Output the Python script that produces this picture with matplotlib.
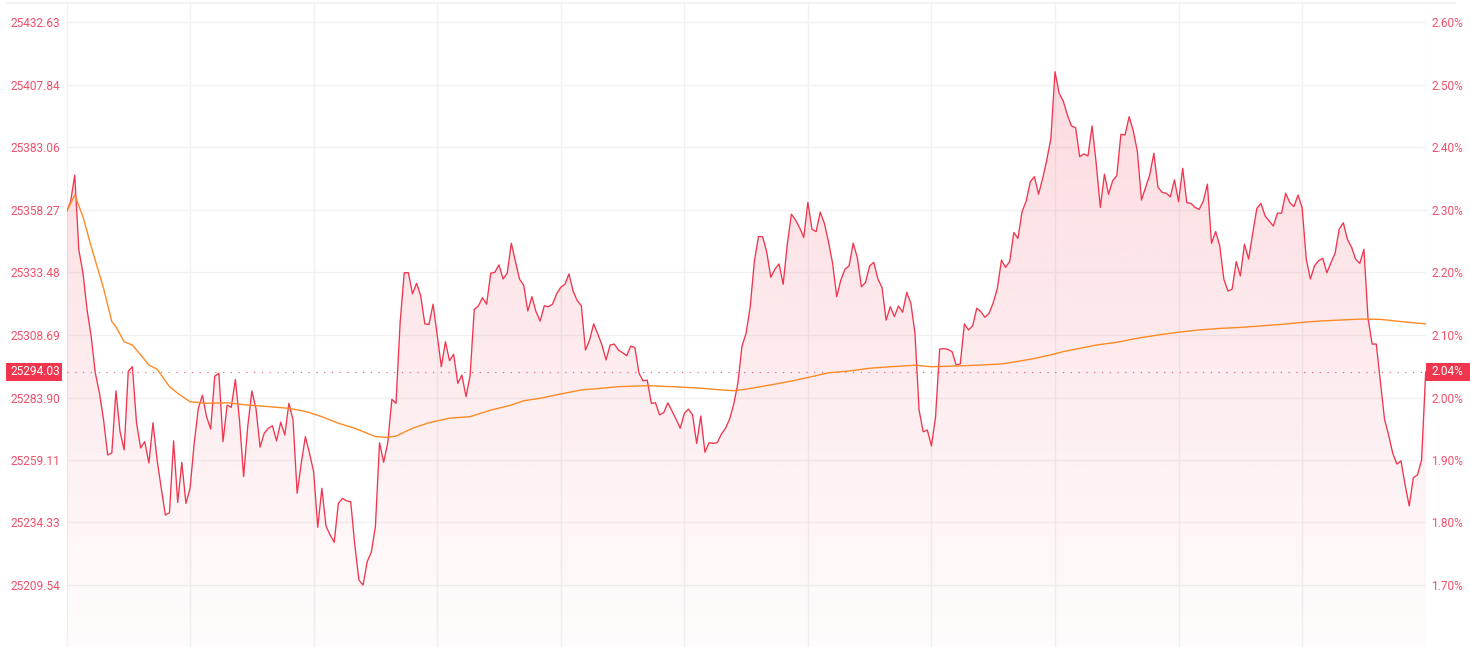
import numpy as np
import matplotlib
matplotlib.use("Agg")
import matplotlib.pyplot as plt
from matplotlib.lines import Line2D
from matplotlib.patches import Rectangle

# ---------------- data ----------------
price = [
    25357.6, 25361.6, 25372.1, 25342.4, 25333.3, 25318.6, 25308.0, 25293.6, 25285.7, 25275.0,
    25261.1, 25261.9, 25286.5, 25270.3, 25263.1, 25294.4, 25296.1, 25273.8, 25263.9, 25266.4,
    25257.9, 25273.9, 25259.1, 25248.0, 25237.3, 25238.2, 25266.7, 25242.3, 25258.2, 25241.9,
    25247.9, 25265.7, 25279.6, 25284.8, 25276.3, 25271.4, 25292.4, 25293.5, 25266.4, 25280.9,
    25280.0, 25291.1, 25275.0, 25252.5, 25272.3, 25286.5, 25279.6, 25264.2, 25269.7, 25271.7,
    25272.7, 25266.7, 25274.1, 25269.0, 25281.6, 25275.0, 25245.9, 25257.8, 25268.4, 25261.8,
    25254.5, 25232.4, 25247.9, 25232.9, 25229.4, 25226.5, 25241.9, 25243.9, 25242.9, 25242.6,
    25225.4, 25211.5, 25209.5, 25218.8, 25222.5, 25232.7, 25266.0, 25258.2, 25266.0, 25283.2,
    25281.6, 25313.6, 25333.4, 25333.4, 25325.0, 25329.2, 25324.2, 25313.1, 25312.9, 25320.9,
    25308.7, 25296.1, 25306.0, 25298.5, 25301.0, 25289.5, 25292.8, 25284.2, 25292.8, 25318.9,
    25320.2, 25323.5, 25320.9, 25333.2, 25333.6, 25336.5, 25330.9, 25333.2, 25345.1, 25337.8,
    25330.8, 25328.5, 25318.2, 25323.9, 25317.9, 25314.2, 25320.3, 25319.9, 25320.9, 25325.0,
    25327.6, 25328.8, 25332.9, 25326.1, 25322.3, 25320.3, 25302.7, 25306.7, 25313.1, 25309.1,
    25304.7, 25298.8, 25304.7, 25305.1, 25302.7, 25301.7, 25300.5, 25304.3, 25303.7, 25293.5,
    25290.5, 25290.8, 25281.6, 25281.8, 25277.0, 25277.9, 25281.8, 25278.6, 25275.3, 25271.7,
    25277.6, 25279.3, 25277.0, 25265.7, 25276.6, 25262.2, 25266.0, 25265.7, 25266.0, 25269.4,
    25271.7, 25275.3, 25281.3, 25289.5, 25304.3, 25309.4, 25319.9, 25337.8, 25347.7, 25347.7,
    25341.7, 25331.6, 25334.8, 25336.9, 25328.8, 25344.7, 25356.6, 25354.3, 25351.2, 25347.4,
    25361.3, 25350.6, 25349.7, 25357.4, 25353.0, 25345.7, 25337.1, 25323.9, 25330.5, 25334.8,
    25336.1, 25345.1, 25339.4, 25327.8, 25329.6, 25336.1, 25337.5, 25330.9, 25327.5, 25314.6,
    25319.9, 25316.0, 25320.2, 25317.7, 25325.6, 25321.3, 25309.4, 25278.9, 25270.3, 25271.0,
    25264.7, 25276.3, 25303.1, 25303.3, 25303.0, 25302.1, 25296.8, 25297.2, 25313.1, 25310.7,
    25312.3, 25319.3, 25317.9, 25315.7, 25317.3, 25321.5, 25327.2, 25338.4, 25335.5, 25337.9,
    25349.3, 25347.0, 25357.6, 25361.8, 25369.5, 25371.5, 25364.5, 25370.8, 25378.1, 25386.7,
    25413.1, 25404.6, 25401.5, 25395.9, 25391.6, 25390.9, 25379.4, 25380.5, 25379.7, 25391.6,
    25376.8, 25359.3, 25372.5, 25364.5, 25369.9, 25371.9, 25388.3, 25388.0, 25395.3, 25389.7,
    25381.4, 25362.2, 25367.3, 25372.2, 25380.8, 25367.3, 25365.3, 25364.9, 25363.5, 25370.2,
    25361.6, 25374.8, 25361.2, 25360.9, 25359.3, 25358.5, 25361.8, 25368.5, 25345.1, 25349.7,
    25344.0, 25330.8, 25326.1, 25326.9, 25337.8, 25332.1, 25344.7, 25338.8, 25349.0, 25358.9,
    25360.9, 25355.9, 25353.9, 25351.9, 25357.0, 25357.0, 25364.9, 25361.2, 25359.6, 25364.2,
    25359.2, 25338.8, 25330.9, 25336.1, 25338.2, 25339.1, 25333.4, 25337.4, 25341.1, 25350.7,
    25353.2, 25346.6, 25343.5, 25338.7, 25337.1, 25342.7, 25315.3, 25305.1, 25305.1, 25290.2,
    25275.3, 25269.0, 25261.8, 25257.5, 25258.8, 25249.2, 25240.9, 25252.1, 25253.2, 25259.1,
    25294.03,
]

avg_idx = [0, 2, 4, 6, 9, 11, 12, 14, 16, 18, 20, 22, 25, 27, 30, 34, 39, 44, 49, 54,
           57, 59, 62, 66, 70, 75, 78, 80, 84, 88, 93, 98, 103, 108, 111, 115, 120, 125,
           130, 134, 141, 147, 154, 159, 162, 165, 171, 176, 181, 185, 190, 195, 200, 206,
           210, 216, 221, 227, 232, 235, 239, 242, 246, 250, 255, 260, 265, 270, 275, 280,
           285, 290, 295, 300, 304, 309, 314, 319, 324, 330]
avg_val = [25357.6, 25364.2, 25355.6, 25343.7, 25327.2, 25314.0, 25312.0, 25306.0, 25304.7,
           25300.8, 25296.8, 25295.1, 25288.2, 25285.6, 25282.2, 25281.6, 25281.8, 25280.9,
           25280.3, 25279.6, 25278.7, 25277.9, 25276.3, 25273.7, 25271.7, 25268.4, 25268.1,
           25268.6, 25271.7, 25273.9, 25275.7, 25276.3, 25278.9, 25280.9, 25282.6, 25283.6,
           25285.3, 25286.9, 25287.6, 25288.2, 25288.6, 25288.2, 25287.6, 25286.9, 25286.6,
           25287.2, 25288.9, 25290.4, 25292.2, 25293.7, 25294.4, 25295.5, 25296.1, 25296.7,
           25296.1, 25296.4, 25296.7, 25297.2, 25298.5, 25299.4, 25300.8, 25302.1, 25303.4,
           25304.7, 25305.8, 25307.4, 25308.7, 25309.8, 25310.7, 25311.3, 25311.7, 25312.3,
           25312.9, 25313.7, 25314.2, 25314.6, 25315.0, 25314.9, 25314.0, 25313.1]

price_ticks = [25432.63, 25407.84, 25383.06, 25358.27, 25333.48, 25308.69,
               25283.90, 25259.11, 25234.33, 25209.54]
pct_labels = ["2.60%", "2.50%", "2.40%", "2.30%", "2.20%", "2.10%",
              "2.00%", "1.90%", "1.80%", "1.70%"]
last_price_label = "25294.03"
last_pct_label = "2.04%"

# ---------------- style ----------------
RED = "#f0354f"
LABEL = "#f0506a"
ORANGE = "#ff8a25"
GRID = "#f1f1f1"

W, H = 1470, 647
fig = plt.figure(figsize=(W / 100, H / 100), dpi=100)
fig.patch.set_facecolor("white")

x0, x1 = 66.5, 1425.7
ytop = 3
ax = fig.add_axes([x0 / W, 0, (x1 - x0) / W, (H - ytop) / H])
ax.set_facecolor("white")

n = len(price)
x = np.arange(n)
ymin, ymax = 25184.95, 25440.36
ax.set_xlim(0, n - 1)
ax.set_ylim(ymin, ymax)

# gradient fill under the line
poly = ax.fill_between(x, price, ymin, color="none", lw=0)
grad = np.zeros((256, 1, 4))
rgb = matplotlib.colors.to_rgb(RED)
grad[:, :, 0], grad[:, :, 1], grad[:, :, 2] = rgb
grad[:, 0, 3] = np.linspace(0.015, 0.2, 256)
im = ax.imshow(grad, aspect="auto", origin="lower",
               extent=[0, n - 1, ymin, ymax], zorder=1, interpolation="bicubic")
im.set_clip_path(poly.get_paths()[0], transform=ax.transData)

ax.plot(x, price, color=RED, lw=0.95, zorder=3)
ax.plot(avg_idx, avg_val, color=ORANGE, lw=1.0, zorder=4)

# dotted last-price line
last = price[-1]
ax.axhline(last, color=RED, lw=0.8, dashes=(1.0, 6.0), zorder=2, alpha=0.85)

# grid
ax.set_xticks(np.arange(0, n, 30))
ax.set_yticks(price_ticks)
ax.grid(True, color=GRID, lw=1.0, zorder=0)
ax.set_axisbelow(True)
ax.tick_params(axis="x", length=0, labelbottom=False)
ax.tick_params(axis="y", length=0, labelsize=8.6, labelcolor=LABEL, pad=4.5)
ax.set_yticklabels([f"{v:.2f}" for v in price_ticks], family="Roboto")
for s in ax.spines.values():
    s.set_visible(False)

ax2 = ax.twinx()
ax2.set_ylim(ymin, ymax)
ax2.set_yticks(price_ticks)
ax2.set_yticklabels(pct_labels, family="Roboto")
ax2.tick_params(axis="y", length=0, labelsize=8.6, labelcolor=LABEL, pad=4.0)
for s in ax2.spines.values():
    s.set_visible(False)

# top border line
fig.add_artist(Line2D([7 / W, 1455 / W], [(H - ytop) / H] * 2, color=GRID, lw=1.2))

# badges
yb = ax.transData.transform((0, last))[1] / H
bh = 18.5 / H
fig.add_artist(Rectangle((6 / W, yb - bh / 2), 56 / W, bh, color=RED, lw=0))
fig.text(60 / W, yb, last_price_label, color="white", ha="right", va="center",
         fontsize=8.6, family="Roboto")
fig.add_artist(Rectangle((x1 / W, yb - bh / 2), (W - x1) / W, bh, color=RED, lw=0))
fig.text(1431 / W, yb, last_pct_label, color="white", ha="left", va="center",
         fontsize=8.6, family="Roboto")

fig.savefig("out.png", dpi=100, facecolor="white")
